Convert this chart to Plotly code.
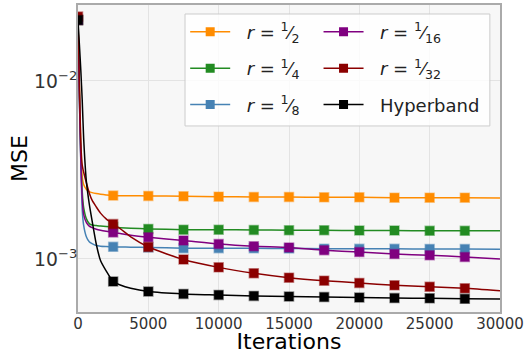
import plotly.graph_objects as go

# ---- data ----
iters_line = [0, 100, 200, 300, 400, 600, 800, 1000, 1300, 1600, 2000, 2500, 3000, 3750,
              5000, 7500, 10000, 12500, 15000, 17500, 20000, 22500, 25000, 27500, 30000]
iters_marker = [0, 2500, 5000, 7500, 10000, 12500, 15000, 17500, 20000, 22500, 25000, 27500]
x_ticks = [0, 5000, 10000, 15000, 20000, 25000, 30000]

mse_r2 = [0.022, 0.009, 0.0042, 0.0029, 0.00262, 0.00246, 0.00239, 0.00236, 0.00233, 0.00231,
          0.00229, 0.00227, 0.002268, 0.002265, 0.00226, 0.00225, 0.00224, 0.00223, 0.00223,
          0.00222, 0.00222, 0.00221, 0.00221, 0.00221, 0.0022]
mse_r4 = [0.022, 0.0085, 0.0038, 0.0024, 0.00195, 0.00168, 0.00158, 0.00155, 0.00154, 0.00153,
          0.00152, 0.00151, 0.0015, 0.00149, 0.001475, 0.00146, 0.00146, 0.001455, 0.00145,
          0.00145, 0.001445, 0.001445, 0.00144, 0.00144, 0.00144]
mse_r8 = [0.022, 0.008, 0.0035, 0.0019, 0.00155, 0.00133, 0.00125, 0.00122, 0.00119, 0.00118,
          0.001175, 0.00117, 0.001168, 0.001165, 0.00116, 0.00115, 0.00115, 0.001148, 0.001145,
          0.001142, 0.00114, 0.00114, 0.001138, 0.001137, 0.001135]
mse_r16 = [0.022, 0.008, 0.0036, 0.0022, 0.00178, 0.0016, 0.00153, 0.0015, 0.00147, 0.00145,
           0.00143, 0.00141, 0.00139, 0.00136, 0.001324, 0.00127, 0.001213, 0.001178, 0.00116,
           0.00112, 0.001094, 0.001066, 0.001049, 0.001026, 0.001]
mse_r32 = [0.023, 0.0095, 0.0045, 0.00337, 0.00308, 0.00267, 0.00235, 0.00214, 0.00196, 0.00181,
           0.00168, 0.00157, 0.00148, 0.00133, 0.001167, 0.000993, 0.000897, 0.000831, 0.000785,
           0.000755, 0.000733, 0.000711, 0.000698, 0.000684, 0.000663]
mse_hb = [0.022, 0.016, 0.0115, 0.0078, 0.0048, 0.0027, 0.00204, 0.00164, 0.00121, 0.00098,
          0.000857, 0.000747, 0.000714, 0.000684, 0.000656, 0.000636, 0.000628, 0.00062, 0.000615,
          0.000611, 0.000607, 0.000603, 0.000601, 0.000597, 0.000595]

labels = ["<i>r</i> = <sup>1</sup>\u2044<sub>2</sub>",
          "<i>r</i> = <sup>1</sup>\u2044<sub>4</sub>",
          "<i>r</i> = <sup>1</sup>\u2044<sub>8</sub>",
          "<i>r</i> = <sup>1</sup>\u2044<sub>16</sub>",
          "<i>r</i> = <sup>1</sup>\u2044<sub>32</sub>",
          "Hyperband"]
series = [mse_r2, mse_r4, mse_r8, mse_r16, mse_r32, mse_hb]
colors = [(255, 140, 0), (34, 139, 34), (70, 130, 180), (128, 0, 128), (139, 0, 0), (0, 0, 0)]
legend_of = ["legend", "legend", "legend", "legend2", "legend2", "legend2"]

fig = go.Figure()

for k, (vals, c) in enumerate(zip(series, colors)):
    col = "rgb(%d,%d,%d)" % c
    edge = "rgba(%d,%d,%d,0.45)" % c
    mvals = [vals[iters_line.index(i)] for i in iters_marker]
    fig.add_trace(go.Scatter(x=iters_line, y=vals, mode="lines",
                             line=dict(color=col, width=1.5, shape="spline", smoothing=0.6),
                             showlegend=False, hoverinfo="skip"))
    fig.add_trace(go.Scatter(x=iters_marker, y=mvals, mode="markers",
                             marker=dict(symbol="square", size=9, color=col,
                                         line=dict(color=edge, width=1.5)),
                             showlegend=False))
    fig.add_trace(go.Scatter(x=[None], y=[None], mode="lines+markers",
                             name="\u00a0\u00a0" + labels[k],
                             line=dict(color=col, width=1.5),
                             marker=dict(symbol="square", size=9, color=col),
                             legend=legend_of[k], legendgroup="g%d" % k))

leg_common = dict(orientation="v", yanchor="top", xanchor="left",
                  bgcolor="rgba(0,0,0,0)", borderwidth=0, itemwidth=40,
                  font=dict(size=18, color="#222222"), tracegroupgap=10)

fig.update_layout(
    width=527, height=354,
    margin=dict(l=78, r=27, t=5, b=42),
    paper_bgcolor="white", plot_bgcolor="#f7f7f7",
    font=dict(family="DejaVu Sans", color="#333333"),
    legend=dict(x=0.254, y=0.972, **leg_common),
    legend2=dict(x=0.57, y=0.972, **leg_common),
    shapes=[dict(type="rect", xref="paper", yref="paper", x0=0.2536, x1=0.976,
                 y0=0.606, y1=0.9707, layer="above",
                 line=dict(color="#cccccc", width=1), fillcolor="rgba(255,255,255,0.8)")],
    xaxis=dict(range=[0, 30000], tickvals=x_ticks, ticktext=[str(v) for v in x_ticks],
               showgrid=True, gridcolor="#e3e3e3", zeroline=False,
               showline=True, linecolor="#aaaaaa", linewidth=1.5, mirror=True,
               ticks="", tickfont=dict(size=15, color="#333333"), automargin=False,
               ticklabelstandoff=-3,
               title=dict(text="Iterations", font=dict(size=22, color="black"), standoff=4)),
    yaxis=dict(type="log", range=[-3.298, -1.573], dtick=1, exponentformat="power",
               showgrid=True, gridcolor="#e3e3e3", zeroline=False,
               showline=True, linecolor="#aaaaaa", linewidth=1.5, mirror=True,
               ticks="", tickfont=dict(size=15, color="#333333"), automargin=False,
               ticklabelstandoff=-4,
               title=dict(text="MSE", font=dict(size=22, color="black"), standoff=0)),
)

fig.write_html("out.html", config={"displayModeBar": False},
               post_script="document.body.style.margin='0px';")
